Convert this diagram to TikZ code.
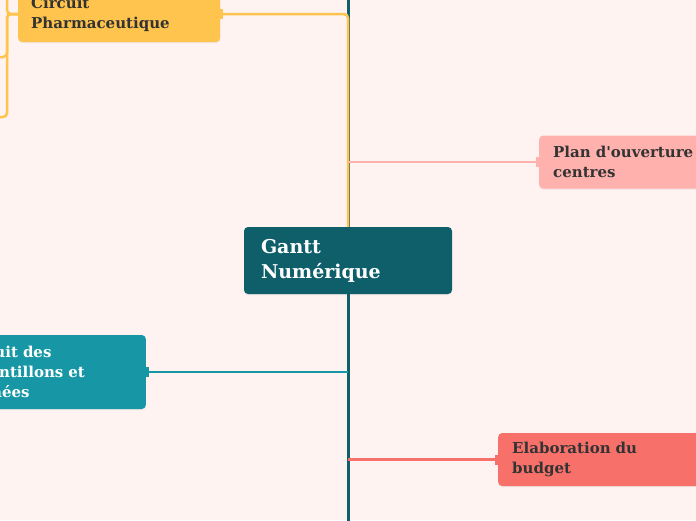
\documentclass[tikz,border=0pt]{standalone}
\usepackage{fontspec}
\setmainfont{DejaVu Serif}
\usepackage{xcolor}
\definecolor{bgpink}{HTML}{FEF3F1}
\definecolor{gntrunk}{HTML}{0F5F6A}
\definecolor{gnyellow}{HTML}{FFC44D}
\definecolor{gnrose}{HTML}{FFB2AD}
\definecolor{gncyan}{HTML}{1797A6}
\definecolor{gnred}{HTML}{F7716A}
\definecolor{darkgrey}{HTML}{333333}
\usepackage{tikz}
\usetikzlibrary{positioning, arrows.meta, shadows, calc}

\begin{document}
\begin{tikzpicture}[
        x=1pt, y=-1pt,
        block/.style={rectangle, rounded corners=4pt, align=left, inner xsep=14pt, inner ysep=0pt,
            minimum height=53pt, text=darkgrey, font=\bfseries\fontsize{15}{20}\selectfont,
            drop shadow={opacity=0.12, shadow xshift=0pt, shadow yshift=-1pt}},
        rootblock/.style={block, fill=gntrunk, text=white, inner xsep=17pt, text width=174pt,
            minimum height=67pt, font=\bfseries\fontsize{19}{25}\selectfont},
        trunk/.style={draw=gntrunk, line width=3pt},
        branch/.style={line width=2.5pt},
        tick/.tip={Bar[width=10pt, line width=3pt]}
    ]
        % Canvas
        \useasboundingbox (0,0) rectangle (696,520);
        \fill[bgpink] (0,0) rectangle (696,520);
        \clip (0,0) rectangle (696,520);

        % Central topic
        \node [rootblock] (root) at (348,260.5) {Gantt\\Numérique};

        % Main topics
        \node [block, fill=gnyellow, anchor=west, text width=176pt, inner xsep=13pt, minimum height=56pt] (circ) at (18,14) {Circuit\\Pharmaceutique};
        \node [block, fill=gnrose, anchor=west, text width=200pt] (plan) at (539,162) {Plan d\textquotesingle ouverture des\\centres};
        \node [block, fill=gncyan, text=white, anchor=east, text width=172pt, minimum height=74pt] (samp) at (146,372) {Circuit des\\échantillons et\\données};
        \node [block, fill=gnred, anchor=west, text width=200pt] (budget) at (498,459.5) {Elaboration du\\budget};

        % Off-canvas ends
        \coordinate (top) at (348,-10);
        \coordinate (bottom) at (348,530);
        \coordinate (kidA) at (-20,-40);
        \coordinate (kidB) at (-20,57);
        \coordinate (kidC) at (-20,117);

        % Trunk
        \draw [trunk] (root.north) -- (top);
        \draw [trunk] (root.south) -- (bottom);

        % Connections
        \draw [branch, draw=gnyellow, rounded corners=4pt, tick-] (circ.east) -| (root.north);
        \draw [branch, draw=gnrose, -tick] (plan.west -| root.north) -- (plan.west);
        \draw [branch, draw=gncyan, -tick] (samp.east -| root.south) -- (samp.east);
        \draw [branch, draw=gnred, -tick] (budget.west -| root.south) -- (budget.west);

        % Sub-branches of the pharmaceutical circuit
        \draw [branch, draw=gnyellow, rounded corners=4pt] (circ.west) -- ++(-11,0) |- (kidA);
        \draw [branch, draw=gnyellow, rounded corners=4pt] (circ.west) -- ++(-11,0) |- (kidB);
        \draw [branch, draw=gnyellow, rounded corners=4pt] (circ.west) -- ++(-11,0) |- (kidC);

    \end{tikzpicture}
\end{document}
